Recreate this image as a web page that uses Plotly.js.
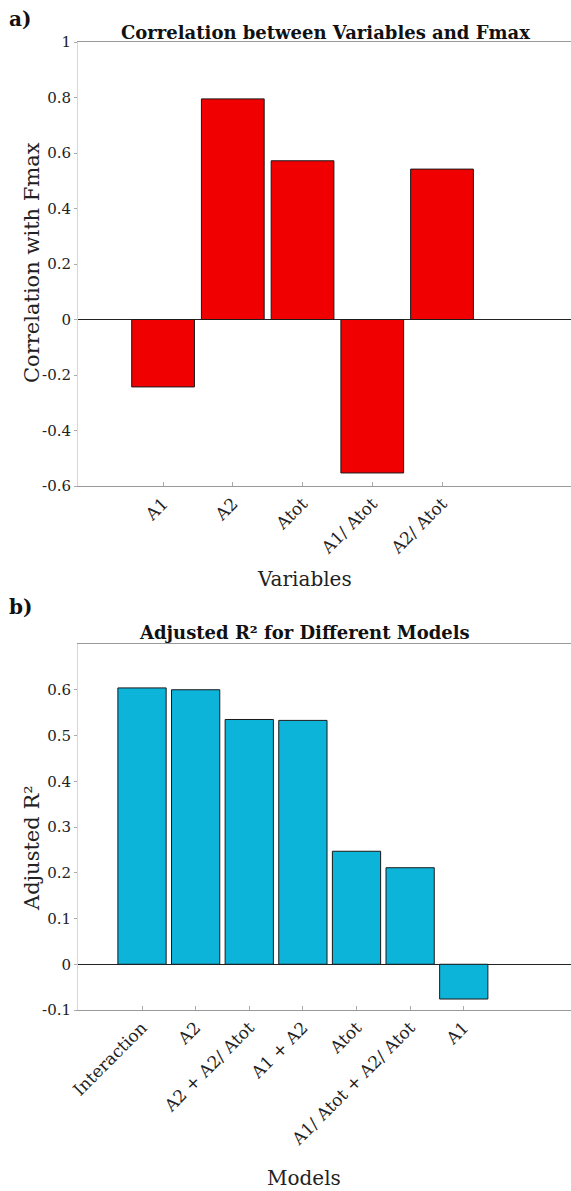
<!DOCTYPE html>
<html>
<head>
<meta charset="utf-8">
<script src="https://cdn.plot.ly/plotly-3.0.1.min.js"></script>
<style>html,body{margin:0;padding:0;background:#fff;}#chart{width:571px;height:1191px;}</style>
</head>
<body>
<div id="chart"></div>
<script>
// Panel a) data
const variables = ["A1", "A2", "Atot", "A1/ Atot", "A2/ Atot"];
const correlations = [-0.243, 0.795, 0.572, -0.553, 0.542];
// Panel b) data
const models = ["Interaction", "A2", "A2 + A2/ Atot", "A1 + A2", "Atot", "A1/ Atot + A2/ Atot", "A1"];
const adjR2 = [0.604, 0.600, 0.535, 0.533, 0.247, 0.211, -0.076];

const W = 571, H = 1191;
const FONT = "DejaVu Serif, Liberation Serif, serif";
const px = v => v / W, py = v => 1 - v / H;

const traces = [
  {type: "bar", x: variables.map((_, i) => i), y: correlations, xaxis: "x", yaxis: "y",
   marker: {color: "#f00000", line: {color: "#1a1a1a", width: 1}}, width: 0.9,
   hoverinfo: "y", showlegend: false},
  {type: "bar", x: models.map((_, i) => i), y: adjR2, xaxis: "x2", yaxis: "y2",
   marker: {color: "#0cb4da", line: {color: "#1a1a1a", width: 1}}, width: 0.9,
   hoverinfo: "y", showlegend: false}
];

const axCommon = {
  showgrid: false, zeroline: false, showline: true, linecolor: "#9a9a9a", linewidth: 1,
  fixedrange: true
};
const xTickFont = {family: FONT, size: 17, color: "#222"};
const yTickFont = {family: FONT, size: 15, color: "#222"};

const layout = {
  width: W, height: H,
  margin: {l: 0, r: 0, t: 0, b: 0},
  paper_bgcolor: "#fff", plot_bgcolor: "#fff",
  bargap: 0.1,
  font: {family: FONT, color: "#222"},
  xaxis: Object.assign({}, axCommon, {
    domain: [px(78), 1], anchor: "y", range: [-1.22, 5.85],
    tickmode: "array", tickvals: variables.map((_, i) => i), ticktext: variables,
    tickangle: -45, ticks: "inside", ticklen: 4, tickcolor: "#aaa", mirror: true,
    tickfont: xTickFont
  }),
  yaxis: Object.assign({}, axCommon, {
    domain: [py(486), py(42)], anchor: "x", range: [-0.6, 1],
    tickmode: "array", tickvals: [-0.6, -0.4, -0.2, 0, 0.2, 0.4, 0.6, 0.8, 1],
    ticktext: ["-0.6", "-0.4", "-0.2", "0", "0.2", "0.4", "0.6", "0.8", "1"],
    ticks: "outside", ticklen: 3, tickcolor: "#aaa", linecolor: "#d8d8d8",
    zeroline: true, zerolinecolor: "#222", zerolinewidth: 1, tickfont: yTickFont
  }),
  xaxis2: Object.assign({}, axCommon, {
    domain: [px(78), 1], anchor: "y2", range: [-1.194, 8.0],
    tickmode: "array", tickvals: models.map((_, i) => i), ticktext: models,
    tickangle: -45, ticks: "inside", ticklen: 4, tickcolor: "#aaa", mirror: true,
    tickfont: xTickFont
  }),
  yaxis2: Object.assign({}, axCommon, {
    domain: [py(1010), py(644)], anchor: "x2", range: [-0.1, 0.7],
    tickmode: "array", tickvals: [-0.1, 0, 0.1, 0.2, 0.3, 0.4, 0.5, 0.6],
    ticktext: ["-0.1", "0", "0.1", "0.2", "0.3", "0.4", "0.5", "0.6"],
    ticks: "outside", ticklen: 3, tickcolor: "#aaa", linecolor: "#d8d8d8",
    zeroline: true, zerolinecolor: "#222", zerolinewidth: 1, tickfont: yTickFont
  }),
  annotations: [
    {text: "<b>a)</b>", xref: "paper", yref: "paper", x: px(7), y: py(19), xanchor: "left", yanchor: "middle",
     showarrow: false, font: {family: FONT, size: 20, color: "#111"}},
    {text: "<b>Correlation between Variables and Fmax</b>", xref: "paper", yref: "paper", x: px(325), y: py(33),
     xanchor: "center", yanchor: "middle", showarrow: false, font: {family: FONT, size: 18, color: "#111"}},
    {text: "Correlation with Fmax", xref: "paper", yref: "paper", x: px(32), y: py(263), textangle: -90,
     xanchor: "center", yanchor: "middle", showarrow: false, font: {family: FONT, size: 21, color: "#222"}},
    {text: "Variables", xref: "paper", yref: "paper", x: px(304), y: py(579),
     xanchor: "center", yanchor: "middle", showarrow: false, font: {family: FONT, size: 20, color: "#222"}},
    {text: "<b>b)</b>", xref: "paper", yref: "paper", x: px(7), y: py(607), xanchor: "left", yanchor: "middle",
     showarrow: false, font: {family: FONT, size: 20, color: "#111"}},
    {text: "<b>Adjusted R² for Different Models</b>", xref: "paper", yref: "paper", x: px(304), y: py(632),
     xanchor: "center", yanchor: "middle", showarrow: false, font: {family: FONT, size: 18, color: "#111"}},
    {text: "Adjusted R²", xref: "paper", yref: "paper", x: px(32), y: py(848), textangle: -90,
     xanchor: "center", yanchor: "middle", showarrow: false, font: {family: FONT, size: 21, color: "#222"}},
    {text: "Models", xref: "paper", yref: "paper", x: px(304), y: py(1178),
     xanchor: "center", yanchor: "middle", showarrow: false, font: {family: FONT, size: 20, color: "#222"}}
  ]
};

Plotly.newPlot("chart", traces, layout, {displayModeBar: false, staticPlot: true});
</script>
</body>
</html>
